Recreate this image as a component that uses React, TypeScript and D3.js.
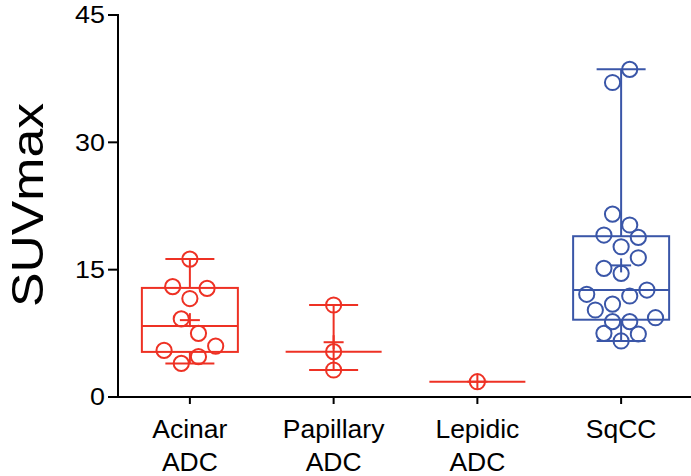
import React from "react";
import * as d3 from "d3";

const categories = ["Acinar ADC", "Papillary ADC", "Lepidic ADC", "SqCC"];
const groupColors = ["#ee3124", "#ee3124", "#ee3124", "#3a56a8"];
const acinar = [16.25, 13.0, 12.8, 11.6, 9.2, 7.5, 6.0, 5.5, 4.75, 3.96];
const papillary = [10.84, 5.34, 3.18];
const lepidic = [1.8];
const sqcc = [38.6, 37.05, 21.55, 20.26, 19.08, 18.8, 17.7, 16.4, 15.16, 14.57, 12.6, 12.1, 11.9, 10.95, 10.25, 9.34, 8.87, 8.87, 7.5, 7.42, 6.6];
const yTicks = [0, 15, 30, 45];
const groups = [acinar, papillary, lepidic, sqcc];

const W = 691, H = 476;
const left = 118, right = 693, top = 15, bottom = 397;
const R = 7.6;
const COL = 17.2;
const BIN_H = 17.8;

function pct(sorted: number[], p: number) {
  const n = sorted.length;
  let pos = p * (n + 1);
  if (pos < 1) pos = 1;
  if (pos > n) pos = n;
  const lo = Math.floor(pos), hi = Math.ceil(pos);
  return sorted[lo - 1] + (pos - lo) * (sorted[hi - 1] - sorted[lo - 1]);
}

function swarm(values: number[], y: (v: number) => number) {
  const sorted = [...values].sort((a, b) => b - a);
  const bins: number[][] = [];
  let cur: number[] = [];
  let start = 0;
  for (const v of sorted) {
    if (cur.length === 0 || y(v) - y(start) < BIN_H) {
      if (cur.length === 0) start = v;
      cur.push(v);
    } else {
      bins.push(cur);
      cur = [v];
      start = v;
    }
  }
  if (cur.length) bins.push(cur);
  const placed: { v: number; dx: number }[] = [];
  for (let b = bins.length - 1; b >= 0; b--) {
    const bin = bins[b];
    const k = bin.length;
    const slots: number[] = [];
    const half = (k - 1) / 2;
    const s = ((b + 1) >> 1) % 2 === 0 ? 1 : -1;
    for (let m = half; m >= 0; m -= 1) {
      if (m === 0) slots.push(0);
      else {
        slots.push(s * m);
        slots.push(-s * m);
      }
    }
    bin.forEach((v, i) => {
      let dx = slots[i] * COL;
      const dir = dx === 0 ? 1 : Math.sign(dx);
      let guard = 0;
      while (
        guard < 10 &&
        placed.some((p) => Math.abs(p.dx - dx) < COL / 2 && Math.abs(y(p.v) - y(v)) < COL)
      ) {
        dx += dir * COL / 2;
        guard++;
      }
      placed.push({ v, dx });
    });
  }
  return placed;
}

export default function App() {
  const x = d3.scaleBand<string>().domain(categories).range([left, right]);
  const y = d3.scaleLinear().domain([0, 45]).range([bottom, top]);
  const bw = x.bandwidth();
  const boxW = 96;
  const capW = 49;
  const font = "'Liberation Sans', Arial, Helvetica, sans-serif";

  return (
    <svg width={W} height={H} style={{ position: "absolute", left: 0, top: 0 }} fontFamily={font}>
      {groups.map((vals, gi) => {
        const cx = (x(categories[gi]) as number) + bw / 2;
        const color = groupColors[gi];
        const s = [...vals].sort((a, b) => a - b);
        const n = s.length;
        const mn = s[0], mx = s[n - 1];
        const med = d3.median(s) as number;
        const mean = d3.mean(s) as number;
        const q1 = pct(s, 0.25), q3 = pct(s, 0.75);
        const hasBox = n >= 4;
        const pts = swarm(vals, y);
        return (
          <g key={gi} stroke={color} strokeWidth={2} fill="none">
            {hasBox ? (
              <>
                <rect x={cx - boxW / 2} y={y(q3)} width={boxW} height={y(q1) - y(q3)} />
                <line x1={cx} x2={cx} y1={y(mx)} y2={y(q3)} />
                <line x1={cx} x2={cx} y1={y(q1)} y2={y(mn)} />
              </>
            ) : (
              <line x1={cx} x2={cx} y1={y(mx)} y2={y(mn)} />
            )}
            {n > 1 && (
              <>
                <line x1={cx - capW / 2} x2={cx + capW / 2} y1={y(mx)} y2={y(mx)} />
                <line x1={cx - capW / 2} x2={cx + capW / 2} y1={y(mn)} y2={y(mn)} />
              </>
            )}
            <line x1={cx - boxW / 2} x2={cx + boxW / 2} y1={y(med)} y2={y(med)} />
            <line x1={cx - 10} x2={cx + 10} y1={y(mean)} y2={y(mean)} />
            <line x1={cx} x2={cx} y1={y(mean) - 7} y2={y(mean) + 7} />
            {pts.map((p, i) => (
              <circle key={i} cx={cx + p.dx} cy={y(p.v)} r={R} />
            ))}
          </g>
        );
      })}
      <g stroke="#000" strokeWidth={2}>
        <line x1={left} x2={left} y1={top - 1} y2={bottom + 1} />
        <line x1={left - 1} x2={W} y1={bottom} y2={bottom} />
        {yTicks.map((t) => (
          <line key={t} x1={left - 10} x2={left} y1={y(t)} y2={y(t)} />
        ))}
        {categories.map((c) => {
          const cx = (x(c) as number) + bw / 2;
          return <line key={c} x1={cx} x2={cx} y1={bottom} y2={bottom + 7} />;
        })}
      </g>
      <g fill="#000" fontSize={24}>
        {yTicks.map((t) => (
          <text key={t} x={105} y={y(t) + 8.5} textAnchor="end" transform={`translate(105,0) scale(1.12,1) translate(-105,0)`}>
            {t}
          </text>
        ))}
      </g>
      <g fill="#000" fontSize={25}>
        {categories.map((c) => {
          const cx = (x(c) as number) + bw / 2;
          const lines = c.split(" ");
          return (
            <g key={c} transform={`translate(${cx},0) scale(1.06,1)`}>
              {lines.map((l, i) => (
                <text key={i} x={0} y={438 + i * 33.5} textAnchor="middle">
                  {l}
                </text>
              ))}
            </g>
          );
        })}
      </g>
      <text
        transform={`translate(43,205) rotate(-90)`}
        textAnchor="middle"
        fontSize={45}
        fill="#000"
        textLength={204}
        lengthAdjust="spacingAndGlyphs"
      >
        SUVmax
      </text>
    </svg>
  );
}
